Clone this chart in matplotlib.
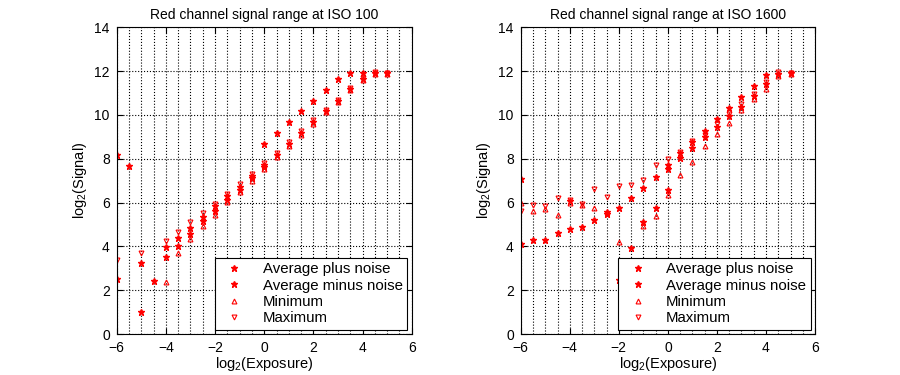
import numpy as np
import matplotlib
matplotlib.use("Agg")
import matplotlib.pyplot as plt
from matplotlib.ticker import MultipleLocator

plt.rcParams["font.family"] = ["Liberation Sans", "DejaVu Sans"]
plt.rcParams["mathtext.default"] = "regular"
plt.rcParams["font.size"] = 10

nan = np.nan

# exposure steps (log2); 0 appears twice in the measurement set
exposure = [-6, -5.5, -5, -4.5, -4, -3.5, -3, -2.5, -2, -1.5, -1, -0.5, 0, 0,
            0.5, 1, 1.5, 2, 2.5, 3, 3.5, 4, 4.5, 5]

# ISO 100
iso100_plus = [8.18, 7.67, 3.24, 2.43, 3.97, 4.38, 4.86, 5.35, 5.82, 6.28, 6.73, 7.22, 8.66, 7.62,
               9.16, 9.67, 10.18, 10.62, 11.14, 11.63, 11.90, 11.90, 11.90, 11.90]
iso100_minus = [2.51, nan, 0.99, nan, 3.51, 4.03, 4.57, 5.14, 5.61, 6.12, 6.58, 7.10, 7.73, nan,
                8.19, 8.68, 9.19, 9.68, 10.18, 10.65, 11.17, 11.63, 11.90, 11.90]
iso100_min = [nan, nan, nan, nan, 2.36, 3.69, 4.35, 4.95, 5.44, 6.02, 6.50, 7.00, 7.52, nan,
              8.10, 8.59, 9.10, 9.60, 10.12, 10.61, 11.12, 11.58, 11.86, 11.87]
iso100_max = [3.36, nan, 3.69, nan, 4.26, 4.67, 5.09, 5.52, 5.94, 6.37, 6.85, 7.29, 7.80, nan,
              8.28, 8.77, 9.27, 9.76, 10.24, 10.70, 11.22, 11.67, 11.94, 11.93]

# ISO 1600
iso1600_plus = [7.08, 4.28, 4.28, 4.61, 6.06, 4.87, 5.19, 5.58, 5.74, 6.22, 6.67, 7.16, 7.72, 7.55,
                8.25, 8.77, 9.27, 9.80, 10.30, 10.81, 11.31, 11.83, 11.87, 11.90]
iso1600_minus = [4.11, nan, nan, nan, 4.78, nan, nan, 5.48, 2.48, 3.94, 5.11, 5.74, 6.58, nan,
                 8.05, 8.48, 8.97, 9.45, 9.93, 10.36, 10.88, 11.40, 11.85, 11.90]
iso1600_min = [5.97, 5.63, 5.72, 5.43, 5.98, 5.89, 5.74, nan, 4.21, nan, 4.93, 5.39, 6.36, nan,
               7.26, 7.86, 8.58, 9.15, 9.63, 10.23, 10.72, 11.20, 11.78, 11.88]
iso1600_max = [5.62, 5.89, 5.86, 6.20, 6.12, 5.93, 6.61, 6.24, 6.77, 6.79, 7.02, 7.73, 8.01, nan,
               8.31, 8.80, 9.10, 9.58, 10.03, 10.49, 10.96, 11.51, 11.94, 11.93]

titles = ["Red channel signal range at ISO 100", "Red channel signal range at ISO 1600"]
series = [
    (iso100_plus, iso100_minus, iso100_min, iso100_max),
    (iso1600_plus, iso1600_minus, iso1600_min, iso1600_max),
]

fig = plt.figure(figsize=(9, 3.75), dpi=100)
positions = [[0.1297, 0.1093, 0.3278, 0.818], [0.5786, 0.1093, 0.327, 0.818]]

for pos, title, (plus, minus, lo, hi) in zip(positions, titles, series):
    ax = fig.add_axes(pos)
    ax.plot(exposure, plus, ls="none", marker="*", ms=4.5, color="red",
            mec="red", label="Average plus noise")
    ax.plot(exposure, minus, ls="none", marker="*", ms=4.5, color="red",
            mec="red", label="Average minus noise")
    ax.plot(exposure, lo, ls="none", marker="^", ms=3.5, mfc="none",
            mec="red", mew=0.8, label="Minimum")
    ax.plot(exposure, hi, ls="none", marker="v", ms=3.5, mfc="none",
            mec="red", mew=0.8, label="Maximum")

    ax.set_xlim(-6, 6)
    ax.set_ylim(0, 14)
    ax.xaxis.set_major_locator(MultipleLocator(2))
    ax.xaxis.set_minor_locator(MultipleLocator(0.5))
    ax.yaxis.set_major_locator(MultipleLocator(2))
    ax.grid(True, which="major", color="black", ls=":", lw=0.8)
    ax.grid(True, which="minor", axis="x", color="black", ls=":", lw=0.8)
    ax.tick_params(which="major", direction="in", top=True, right=True,
                   length=4, labelsize=10)
    ax.tick_params(axis="x", pad=5)
    ax.tick_params(axis="y", pad=5)
    ax.tick_params(which="minor", length=0)
    for s in ax.spines.values():
        s.set_linewidth(0.8)

    ax.set_title(title, fontsize=10)
    ax.set_xlabel("log$_2$(Exposure)", fontsize=10.5, labelpad=0)
    ax.set_ylabel("log$_2$(Signal)", fontsize=10.5)

    leg = ax.legend(loc="lower right", fontsize=10.8, fancybox=False,
                    framealpha=1, edgecolor="black", borderaxespad=0.3,
                    handletextpad=0.9, handlelength=2.0, labelspacing=0.15,
                    borderpad=0.3)
    leg.get_frame().set_linewidth(0.8)

fig.savefig("out.png", dpi=100)
